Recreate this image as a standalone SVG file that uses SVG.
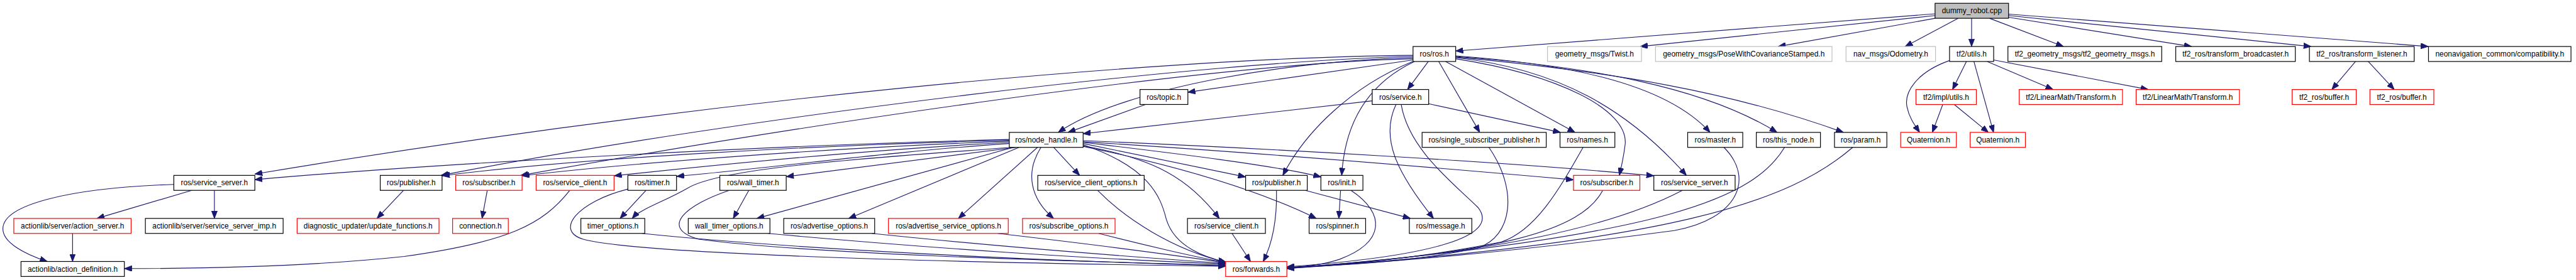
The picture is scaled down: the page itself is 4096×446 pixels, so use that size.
<svg xmlns="http://www.w3.org/2000/svg" width="4096" height="446" viewBox="0 0 4096 446">
<style>
.node rect{fill:#ffffff;stroke:#000000;stroke-width:1.3}
.node.red rect{stroke:#ff0000}
.node.grey rect{stroke:#bfbfbf}
.node.root rect{fill:#bfbfbf}
.node text{font-family:"Liberation Sans",Arial,Helvetica,sans-serif;font-size:13px;fill:#000000;text-anchor:middle}
#edges path{fill:none;stroke:#191970;stroke-width:1.25;marker-end:url(#ah)}
</style>
<defs>
<marker id="ah" markerUnits="userSpaceOnUse" viewBox="0 0 13 10" refX="13" refY="5" markerWidth="13" markerHeight="10" orient="auto">
<path d="M0,0 L13,5 L0,10 z" fill="#191970" stroke="#191970" stroke-width="1"/>
</marker>
</defs>
<rect x="0" y="0" width="4096" height="446" fill="#ffffff"/>
<g transform="scale(0.918)">
<g id="edges">
<path d="M3351.7,24 L2521.4,88.5"/>
<path d="M3351.7,27 L2841,80.7"/>
<path d="M3352,31.7 L3080,80.7"/>
<path d="M3392,31.7 L3300,80.7"/>
<path d="M3415,31.7 L3415,80.7"/>
<path d="M3446,31.7 L3574,80.7"/>
<path d="M3479,30 L3796,80.7"/>
<path d="M3479,27 L4003,80.7"/>
<path d="M3479,24.5 L4206,80.7"/>
<path d="M3406,106.7 L3382,155.3"/>
<path d="M3419,106.7 L3453,229.7"/>
<path d="M3442,106.7 L3556,155.3"/>
<path d="M3453,104 L3721,155.3"/>
<path d="M3377,105 C3320,125 3298,160 3303,185 C3307,205 3317,218 3325,229.7"/>
<path d="M3365,181.3 L3347,229.7"/>
<path d="M3385,181.3 L3444,229.7"/>
<path d="M4080,106.7 L4039,155.3"/>
<path d="M4102,106.7 L4147,155.3"/>
<path d="M2474,106.7 L2438,155.3"/>
<path d="M2492,106.7 L2563,229.7"/>
<path d="M2504,106.7 L2728,229.7"/>
<path d="M2474.6,180 L2703,229.7"/>
<path d="M2450,106.7 C2380,140 2330,200 2324,304.3"/>
<path d="M2447.5,100 C2250,104 1950,150 1833,229.7"/>
<path d="M2447.5,104 L2057.5,160"/>
<path d="M2376.8,175 L1876,232"/>
<path d="M1984,181.3 L1850,229.7"/>
<path d="M2447,106.7 C2340,150 2260,230 2222,304.3"/>
<path d="M2447.5,96 C2000,100 1200,175 441.4,302"/>
<path d="M2447.5,98 C2100,105 1300,200 764,304.3"/>
<path d="M2447.5,102 C2100,110 1400,215 902,304.3"/>
<path d="M1748.2,242 C1400,250 800,280 441.4,311.7"/>
<path d="M1748.2,243.5 C1400,252 1000,275 766,305"/>
<path d="M1748.2,245 C1450,256 1100,282 904,305"/>
<path d="M1748.2,247 C1500,260 1250,285 1064,305"/>
<path d="M1748.2,249 C1550,262 1350,290 1172,306"/>
<path d="M1760,255.7 L1362,306.5"/>
<path d="M1752,255.7 C1500,275 1250,290 1190,327 C1150,350 1110,362 1095,379"/>
<path d="M1755,255.7 L1311,379"/>
<path d="M1765,255.7 L1470,379"/>
<path d="M1797,255.7 L1660,379"/>
<path d="M1803,255.7 C1775,300 1785,345 1825,379"/>
<path d="M1825,255.7 L1870,304.3"/>
<path d="M1876,253 C2000,275 2060,310 2112,379"/>
<path d="M1876,251 C1990,290 2010,340 2020,380 C2035,430 2090,447 2124,455"/>
<path d="M1876,249 L2157.5,307"/>
<path d="M1876.1,247 C2000,262 2200,285 2288,307"/>
<path d="M1876,254 C2050,290 2180,330 2280,379"/>
<path d="M1876.1,244 C2200,258 2600,280 2864.6,305"/>
<path d="M1876.1,246 C2200,266 2500,292 2725.4,312"/>
<path d="M332,330.3 L168,379"/>
<path d="M371.4,330.3 L371.4,379"/>
<path d="M301.1,320 C120,326 5,355 5,397 C5,420 40,440 82,453.7"/>
<path d="M125.7,405 L125.7,453.7"/>
<path d="M987,330.3 C940,390 880,420 700,445 C560,460 400,466 215.4,466"/>
<path d="M699,330.3 L653,379"/>
<path d="M844,330.3 L835,379"/>
<path d="M1119,330.3 L1074,379"/>
<path d="M1088,328 C1000,350 960,400 1010,415 C1100,440 1600,455 2123,462"/>
<path d="M1263,330.3 C1190,355 1140,395 1210,415 C1400,440 1800,452 2123,460"/>
<path d="M1297,330.3 L1270,379"/>
<path d="M1112,405 C1300,425 1700,450 2123,461"/>
<path d="M1330,405 C1600,430 1900,450 2123,458"/>
<path d="M1510,405 C1700,425 1950,445 2123,457"/>
<path d="M1728,405 C1900,425 2050,445 2123,456"/>
<path d="M1903,405 C1980,425 2080,448 2123,455.5"/>
<path d="M1901,330.3 C1950,380 2030,432 2123,455"/>
<path d="M2134,405 L2166,453.7"/>
<path d="M2211,330.3 C2212,380 2205,420 2188,453.7"/>
<path d="M2261,330.3 L2443,379"/>
<path d="M2322,330.3 L2319,379"/>
<path d="M2340,330.3 C2400,370 2400,420 2320,450 C2290,460 2260,463 2229,464"/>
<path d="M2418,181.3 C2390,240 2420,300 2483,379"/>
<path d="M2427,181.3 C2440,260 2520,320 2560,360 C2600,410 2480,445 2229,463"/>
<path d="M2579,255.7 C2630,330 2620,410 2560,430 C2450,455 2300,462 2229,464"/>
<path d="M2742,255.7 C2700,330 2660,400 2600,420 C2450,450 2300,462 2229,464"/>
<path d="M2776,330.3 C2740,400 2600,440 2229,465"/>
<path d="M2914,330.3 C2800,390 2600,440 2229,465"/>
<path d="M2986,255.7 C3040,310 3010,380 2900,400 C2600,440 2400,455 2229,465"/>
<path d="M3091,255.7 C3040,340 2900,410 2229,466"/>
<path d="M3209,255.7 C3100,350 2900,420 2229,466"/>
<path d="M2521.4,97 C2700,110 2880,140 2962,229.7"/>
<path d="M2521.4,98 C2750,115 2950,150 3078,229.7"/>
<path d="M2521.4,99 C2800,125 3000,160 3193,229.7"/>
<path d="M2521.4,100 C2700,120 2820,190 2921,304.3"/>
<path d="M2521.4,102 C2700,130 2820,190 2815,250 C2812,275 2808,290 2805,304.3"/>
</g>
<g id="n_dummy" class="node root"><rect x="3351.7" y="5.7" width="127.3" height="26"/><text x="3415.4" y="23.2">dummy_robot.cpp</text></g>
<g id="n_ros" class="node"><rect x="2447.5" y="80.7" width="73.9" height="26"/><text x="2484.5" y="98.2">ros/ros.h</text></g>
<g id="n_twist" class="node grey"><rect x="2680.4" y="80.7" width="162.8" height="26"/><text x="2761.8" y="98.2">geometry_msgs/Twist.h</text></g>
<g id="n_pose" class="node grey"><rect x="2867.5" y="80.7" width="305.7" height="26"/><text x="3020.4" y="98.2">geometry_msgs/PoseWithCovarianceStamped.h</text></g>
<g id="n_odom" class="node grey"><rect x="3197.5" y="80.7" width="155" height="26"/><text x="3275" y="98.2">nav_msgs/Odometry.h</text></g>
<g id="n_tf2utils" class="node"><rect x="3376.8" y="80.7" width="76.4" height="26"/><text x="3415" y="98.2">tf2/utils.h</text></g>
<g id="n_tf2geom" class="node"><rect x="3477.9" y="80.7" width="266.4" height="26"/><text x="3611.1" y="98.2">tf2_geometry_msgs/tf2_geometry_msgs.h</text></g>
<g id="n_bcast" class="node"><rect x="3768.6" y="80.7" width="207.1" height="26"/><text x="3872.2" y="98.2">tf2_ros/transform_broadcaster.h</text></g>
<g id="n_listen" class="node"><rect x="4000.1" y="80.7" width="181.5" height="26"/><text x="4090.9" y="98.2">tf2_ros/transform_listener.h</text></g>
<g id="n_neonav" class="node"><rect x="4206.4" y="80.7" width="246.8" height="26"/><text x="4329.8" y="98.2">neonavigation_common/compatibility.h</text></g>
<g id="n_topic" class="node"><rect x="1974.6" y="155.3" width="82.9" height="26"/><text x="2016" y="172.8">ros/topic.h</text></g>
<g id="n_service" class="node"><rect x="2376.8" y="155.3" width="97.8" height="26"/><text x="2425.7" y="172.8">ros/service.h</text></g>
<g id="n_implutils" class="node red"><rect x="3318.6" y="155.3" width="104.6" height="26"/><text x="3370.9" y="172.8">tf2/impl/utils.h</text></g>
<g id="n_lm1" class="node red"><rect x="3497.5" y="155.3" width="178.9" height="26"/><text x="3587" y="172.8">tf2/LinearMath/Transform.h</text></g>
<g id="n_lm2" class="node red"><rect x="3700" y="155.3" width="178.9" height="26"/><text x="3789.5" y="172.8">tf2/LinearMath/Transform.h</text></g>
<g id="n_buf1" class="node red"><rect x="3970.2" y="155.3" width="111" height="26"/><text x="4025.7" y="172.8">tf2_ros/buffer.h</text></g>
<g id="n_buf2" class="node red"><rect x="4104.9" y="155.3" width="110.7" height="26"/><text x="4160.2" y="172.8">tf2_ros/buffer.h</text></g>
<g id="n_nodehandle" class="node"><rect x="1748.2" y="229.7" width="127.9" height="26"/><text x="1812.2" y="247.2">ros/node_handle.h</text></g>
<g id="n_ssp" class="node"><rect x="2463.2" y="229.7" width="215" height="26"/><text x="2570.7" y="247.2">ros/single_subscriber_publisher.h</text></g>
<g id="n_names" class="node"><rect x="2702.1" y="229.7" width="95" height="26"/><text x="2749.6" y="247.2">ros/names.h</text></g>
<g id="n_master" class="node"><rect x="2923.2" y="229.7" width="95.4" height="26"/><text x="2970.9" y="247.2">ros/master.h</text></g>
<g id="n_thisnode" class="node"><rect x="3042.1" y="229.7" width="111.1" height="26"/><text x="3097.7" y="247.2">ros/this_node.h</text></g>
<g id="n_param" class="node"><rect x="3177.5" y="229.7" width="90.7" height="26"/><text x="3222.9" y="247.2">ros/param.h</text></g>
<g id="n_quat1" class="node red"><rect x="3292.1" y="229.7" width="96.5" height="26"/><text x="3340.4" y="247.2">Quaternion.h</text></g>
<g id="n_quat2" class="node red"><rect x="3412.5" y="229.7" width="95.7" height="26"/><text x="3460.4" y="247.2">Quaternion.h</text></g>
<g id="n_ssrv1" class="node"><rect x="301.1" y="304.3" width="140.3" height="26"/><text x="371.3" y="321.8">ros/service_server.h</text></g>
<g id="n_pub1" class="node"><rect x="658.6" y="304.3" width="107.1" height="26"/><text x="712.2" y="321.8">ros/publisher.h</text></g>
<g id="n_sub1" class="node red"><rect x="789.3" y="304.3" width="115" height="26"/><text x="846.8" y="321.8">ros/subscriber.h</text></g>
<g id="n_scli1" class="node red"><rect x="928.6" y="304.3" width="135" height="26"/><text x="996.1" y="321.8">ros/service_client.h</text></g>
<g id="n_timer" class="node"><rect x="1087.5" y="304.3" width="84.3" height="26"/><text x="1129.7" y="321.8">ros/timer.h</text></g>
<g id="n_walltimer" class="node"><rect x="1246.8" y="304.3" width="115" height="26"/><text x="1304.3" y="321.8">ros/wall_timer.h</text></g>
<g id="n_sco" class="node"><rect x="1797.5" y="304.3" width="184.3" height="26"/><text x="1889.7" y="321.8">ros/service_client_options.h</text></g>
<g id="n_pub2" class="node"><rect x="2157.5" y="304.3" width="106.8" height="26"/><text x="2210.9" y="321.8">ros/publisher.h</text></g>
<g id="n_init" class="node"><rect x="2287.9" y="304.3" width="72.8" height="26"/><text x="2324.3" y="321.8">ros/init.h</text></g>
<g id="n_sub2" class="node red"><rect x="2725.4" y="304.3" width="115" height="26"/><text x="2782.9" y="321.8">ros/subscriber.h</text></g>
<g id="n_ssrv2" class="node"><rect x="2864.6" y="304.3" width="140.8" height="26"/><text x="2935" y="321.8">ros/service_server.h</text></g>
<g id="n_actsrv" class="node red"><rect x="23.9" y="379" width="203.2" height="26"/><text x="125.5" y="396.5">actionlib/server/action_server.h</text></g>
<g id="n_ssimp" class="node"><rect x="251.8" y="379" width="238.6" height="26"/><text x="371.1" y="396.5">actionlib/server/service_server_imp.h</text></g>
<g id="n_diag" class="node red"><rect x="514.6" y="379" width="245.8" height="26"/><text x="637.5" y="396.5">diagnostic_updater/update_functions.h</text></g>
<g id="n_conn" class="node red"><rect x="783.9" y="379" width="96.5" height="26"/><text x="832.2" y="396.5">connection.h</text></g>
<g id="n_timeropt" class="node"><rect x="1006.1" y="379" width="110.7" height="26"/><text x="1061.5" y="396.5">timer_options.h</text></g>
<g id="n_wto" class="node"><rect x="1192.1" y="379" width="141.5" height="26"/><text x="1262.9" y="396.5">wall_timer_options.h</text></g>
<g id="n_advopt" class="node"><rect x="1357.5" y="379" width="157.5" height="26"/><text x="1436.3" y="396.5">ros/advertise_options.h</text></g>
<g id="n_aso" class="node red"><rect x="1538.9" y="379" width="207.5" height="26"/><text x="1642.7" y="396.5">ros/advertise_service_options.h</text></g>
<g id="n_subopt" class="node red"><rect x="1771.1" y="379" width="160.3" height="26"/><text x="1851.3" y="396.5">ros/subscribe_options.h</text></g>
<g id="n_scli2" class="node"><rect x="2056.8" y="379" width="135" height="26"/><text x="2124.3" y="396.5">ros/service_client.h</text></g>
<g id="n_spinner" class="node"><rect x="2267.5" y="379" width="97.9" height="26"/><text x="2316.5" y="396.5">ros/spinner.h</text></g>
<g id="n_message" class="node"><rect x="2441.1" y="379" width="108.2" height="26"/><text x="2495.2" y="396.5">ros/message.h</text></g>
<g id="n_actdef" class="node"><rect x="36.4" y="453.7" width="179" height="26"/><text x="125.9" y="471.2">actionlib/action_definition.h</text></g>
<g id="n_forwards" class="node red"><rect x="2122.9" y="453.7" width="106" height="26"/><text x="2175.9" y="471.2">ros/forwards.h</text></g>
</g>
</svg>
